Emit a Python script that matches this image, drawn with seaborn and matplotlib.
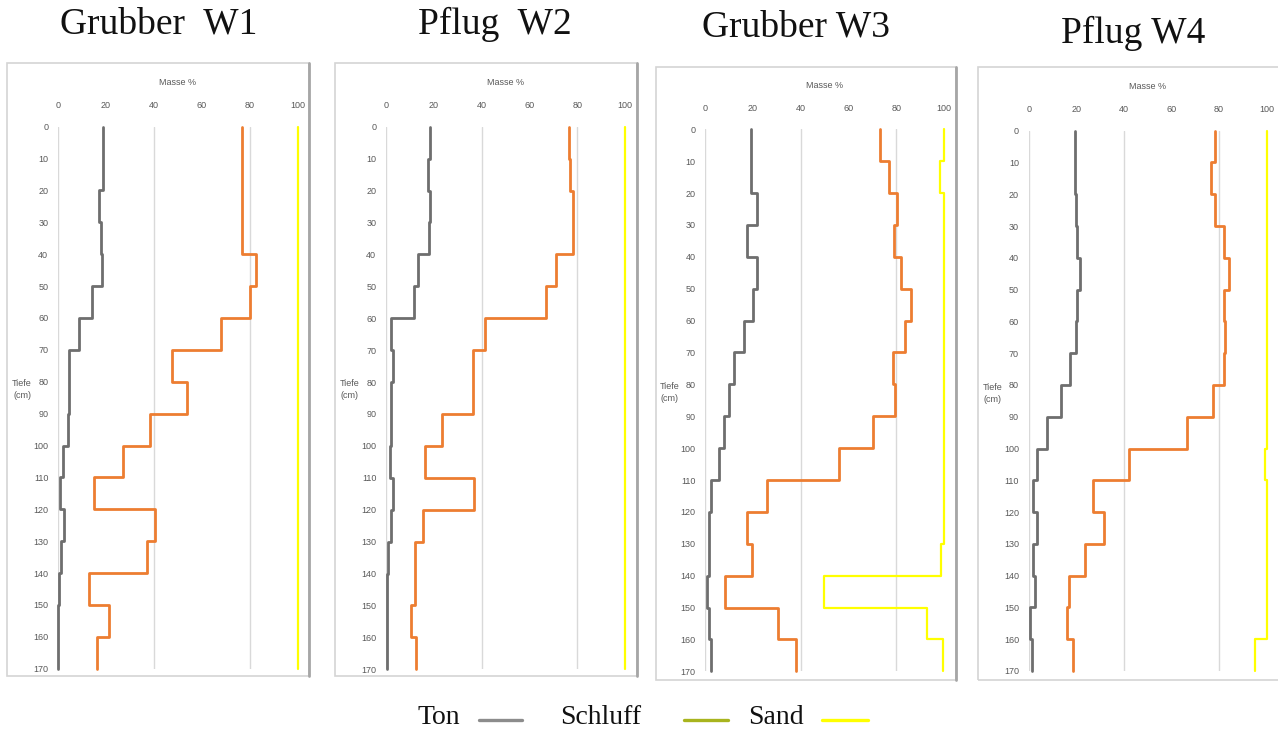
import numpy as np
import pandas as pd
import matplotlib
matplotlib.use("Agg")
import matplotlib.pyplot as plt
from matplotlib.lines import Line2D
from matplotlib.patches import Rectangle
import seaborn as sns

# Tiefenstufen (cm): Horizonte 0-10, 10-20, ..., 160-170
tiefe_grenzen = list(range(0, 180, 10))

titel = ["Grubber  W1", "Pflug  W2", "Grubber W3", "Pflug W4"]

# Kumulierte Massenanteile je Horizont (Masse %):
# Ton, Ton + Schluff, Ton + Schluff + Sand
ton_w1 = [18.6, 18.6, 17.2, 17.8, 18.2, 14.3, 8.8, 4.7, 4.7, 4.0, 2.2, 1.0, 2.5, 1.4, 0.3, 0.0, 0.0]
schluff_w1 = [76.8, 76.8, 76.8, 76.8, 82.6, 80.1, 67.9, 47.6, 54.0, 38.4, 27.3, 15.0, 40.3, 37.3, 13.1, 21.4, 16.4]
sand_w1 = [100.0] * 17

ton_w2 = [18.2, 17.5, 18.2, 18.1, 13.4, 11.7, 1.9, 3.1, 2.1, 2.0, 1.7, 3.1, 2.2, 0.7, 0.3, 0.3, 0.3]
schluff_w2 = [76.3, 76.7, 78.3, 78.3, 71.0, 66.9, 41.5, 36.5, 36.5, 23.3, 16.4, 36.8, 15.5, 12.3, 12.3, 10.6, 12.7]
sand_w2 = [100.0] * 17

ton_w3 = [19.1, 19.1, 21.5, 17.6, 21.8, 20.1, 16.2, 12.0, 9.8, 7.8, 5.7, 2.5, 1.7, 1.7, 0.6, 1.7, 2.5]
schluff_w3 = [73.2, 77.1, 80.4, 79.1, 82.1, 86.0, 83.8, 78.8, 79.6, 70.1, 56.1, 26.0, 17.6, 19.6, 8.1, 30.4, 38.0]
sand_w3 = [100.0, 98.3, 100.0, 100.0, 100.0, 100.0, 100.0, 100.0, 100.0, 100.0, 100.0, 100.0, 100.0, 98.9, 49.7, 92.7, 99.7]

ton_w4 = [19.3, 19.3, 19.9, 20.4, 21.6, 20.4, 19.9, 17.4, 13.4, 7.8, 3.6, 2.0, 3.6, 2.0, 2.5, 0.6, 1.4]
schluff_w4 = [78.2, 76.5, 78.4, 82.1, 84.3, 82.1, 82.6, 82.1, 77.3, 66.4, 42.3, 27.2, 31.7, 23.5, 17.1, 16.0, 18.5]
sand_w4 = [100.0, 100.0, 100.0, 100.0, 100.0, 100.0, 100.0, 100.0, 100.0, 100.0, 99.2, 100.0, 100.0, 100.0, 100.0, 100.0, 95.0]

profile = [
    (ton_w1, schluff_w1, sand_w1),
    (ton_w2, schluff_w2, sand_w2),
    (ton_w3, schluff_w3, sand_w3),
    (ton_w4, schluff_w4, sand_w4),
]

fraktionen = ["Ton", "Schluff", "Sand"]
linien_farben = {"Ton": "#6e6e6e", "Schluff": "#ed7d31", "Sand": "#ffff00"}
linien_breiten = {"Ton": 2.0, "Schluff": 2.0, "Sand": 1.6}
legende_farben = {"Ton": "#8c8c8c", "Schluff": "#a8b41e", "Sand": "#ffff00"}

masse_ticks = [0, 20, 40, 60, 80, 100]
tiefe_ticks = list(range(0, 180, 10))

sns.set_theme(style="white")
plt.rcParams["font.family"] = ["Liberation Sans", "DejaVu Sans"]
serif = ["Liberation Serif", "DejaVu Serif"]

W, H = 1278, 738
fig = plt.figure(figsize=(W / 100, H / 100), dpi=100)
fig.patch.set_facecolor("white")


def fx(px):
    return px / W


def fy(py):
    return 1 - py / H


# Zeichenflaechen (Pixel): x bei 0 %, x bei 100 %, Tiefe 0, Tiefe 170
flaechen = [
    (58.0, 297.7, 126.7, 668.7),
    (386.0, 625.3, 126.7, 669.3),
    (705.3, 944.0, 129.3, 671.3),
    (1028.7, 1266.7, 130.7, 671.0),
]
# Diagrammrahmen (Pixel): links, oben, rechts, unten
rahmen = [
    (7, 63, 309, 676),
    (335, 63, 637, 676),
    (656, 67, 956, 680),
    (978, 67, 1285, 680),
]
titel_pos = [(159, 24), (495, 24), (796, 27), (1133, 33)]


def stufen(werte):
    """Treppenlinie: jeder Wert gilt ueber seinen ganzen 10-cm-Horizont."""
    oben = np.array(tiefe_grenzen[:-1], dtype=float)
    unten = np.array(tiefe_grenzen[1:], dtype=float)
    x = np.repeat(np.asarray(werte, dtype=float), 2)
    y = np.column_stack([oben, unten]).ravel()
    return x, y


for i, ((x0, x1, y0, y1), (rl, ro, rr, ru)) in enumerate(zip(flaechen, rahmen)):
    # Rahmen des Diagrammbereichs
    fig.add_artist(Rectangle((fx(rl), fy(ru)), fx(rr - rl), (ru - ro) / H,
                             transform=fig.transFigure, facecolor="none",
                             edgecolor="#d4d4d4", lw=1.2, zorder=-5))
    fig.add_artist(Line2D([fx(rr), fx(rr)], [fy(ru), fy(ro)], color="#a6a6a6",
                          lw=2.0, transform=fig.transFigure, zorder=-5))

    ax = fig.add_axes([fx(x0), fy(y1), fx(x1 - x0), (y1 - y0) / H])
    ax.set_facecolor("none")
    ax.set_zorder(2)

    for name, werte in zip(fraktionen, profile[i]):
        xs, ys = stufen(werte)
        df = pd.DataFrame({"Masse": xs, "Tiefe": ys})
        sns.lineplot(data=df, x="Masse", y="Tiefe", sort=False, estimator=None,
                     color=linien_farben[name], lw=linien_breiten[name],
                     ax=ax, clip_on=False, zorder=3)

    ax.set_xlim(0, 100)
    ax.set_ylim(170, 0)
    ax.set_xticks(masse_ticks)
    ax.set_yticks(tiefe_ticks)
    ax.xaxis.tick_top()
    ax.tick_params(axis="both", length=0, labelsize=6.5, colors="#595959")
    ax.tick_params(axis="x", pad=12)
    ax.tick_params(axis="y", pad=7)
    for v in (0, 40, 80):
        ax.axvline(v, color="#d9d9d9", lw=1.0, zorder=1)
    for s in ax.spines.values():
        s.set_visible(False)
    ax.set_xlabel("")
    ax.set_ylabel("")
    ax.text(0.5, 1.0 + 44 / (y1 - y0), "Masse %", transform=ax.transAxes,
            ha="center", va="center", fontsize=6.5, color="#595959")
    ax.text(-36 / (x1 - x0), 1 - 263 / (y1 - y0), "Tiefe\n(cm)",
            transform=ax.transAxes, ha="center", va="center", fontsize=6.5,
            color="#595959", linespacing=1.5)

    tx, ty = titel_pos[i]
    fig.text(fx(tx), fy(ty), titel[i], ha="center", va="center",
             fontsize=27, family=serif, color="#111111")

# Legende unter den Profilen: Beschriftung links, Linie rechts daneben
legende_text_x = [418, 560, 748]
legende_linie_x = [(479, 522), (684, 728), (822, 868)]
legende_y = 718
for name, tx, (lx0, lx1) in zip(fraktionen, legende_text_x, legende_linie_x):
    fig.text(fx(tx), fy(legende_y - 1), name, ha="left", va="center",
             fontsize=20, family=serif, color="#111111")
    fig.add_artist(Line2D([fx(lx0), fx(lx1)], [fy(legende_y + 2), fy(legende_y + 2)],
                          color=legende_farben[name], lw=2.4,
                          transform=fig.transFigure))

fig.savefig("out.png", dpi=100, facecolor="white")
